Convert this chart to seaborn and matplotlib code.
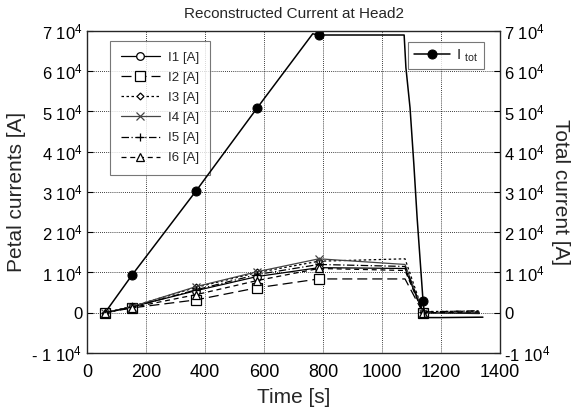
import numpy as np
import pandas as pd
import matplotlib
matplotlib.use("Agg")
import matplotlib.pyplot as plt
from matplotlib.ticker import FuncFormatter, MultipleLocator
import seaborn as sns

# total current (right axis)
t_tot = [61, 153, 370, 577, 765, 786, 1000, 1075, 1081, 1095, 1108, 1119, 1132, 1139, 1145, 1200, 1342]
i_tot = [0, 9400, 30300, 50900, 69300, 69000, 69000, 69000, 60900, 50900, 36800, 23600, 10200, 3000, -1200, -1200, -1100]
tot_marks = [1, 2, 3, 5, 13]

# petal currents (left axis)
t_pet = [61, 153, 370, 577, 786, 1078, 1139, 1330]
petals = {
    "I1 [A]": [0, 1500, 5500, 9000, 11200, 11000, 0, -200],
    "I2 [A]": [0, 1200, 3200, 6200, 8400, 8400, 0, 100],
    "I3 [A]": [0, 1600, 6300, 10000, 12800, 13400, 300, 400],
    "I4 [A]": [0, 1500, 6500, 10200, 13400, 12000, 0, 0],
    "I5 [A]": [0, 1400, 5700, 9500, 12000, 11500, 200, 500],
    "I6 [A]": [0, 1300, 4500, 8000, 11000, 10500, 0, 200],
}
pet_marks = [0, 1, 2, 3, 4, 6]

styles = {
    "I1 [A]": dict(marker="o", linestyle="-", color="black"),
    "I2 [A]": dict(marker="s", linestyle=(0, (8, 4)), color="black", markersize=7),
    "I3 [A]": dict(marker="D", linestyle=(0, (2, 2)), color="black", markersize=3.5),
    "I4 [A]": dict(marker="x", linestyle="-", color="#444444"),
    "I5 [A]": dict(marker="+", linestyle=(0, (6, 2, 1, 2)), color="black"),
    "I6 [A]": dict(marker="^", linestyle=(0, (4, 3)), color="black"),
}

sns.set_style("white")
plt.rcParams["font.family"] = ["Liberation Sans", "DejaVu Sans"]
plt.rcParams["mathtext.fontset"] = "custom"
plt.rcParams["mathtext.rm"] = "Liberation Sans"
plt.rcParams["mathtext.it"] = "Liberation Sans:italic"

fig = plt.figure(figsize=(5.74, 4.12), dpi=100)
ax = fig.add_axes([0.1516, 0.1432, 0.7195, 0.7816])

for name, vals in petals.items():
    df = pd.DataFrame({"t": t_pet, "I": vals})
    st = dict(styles[name])
    ms = st.pop("markersize", 5.5)
    sns.lineplot(data=df, x="t", y="I", ax=ax, sort=False, label=name,
                 linewidth=0.9, markevery=pet_marks, markersize=ms,
                 markerfacecolor="white", markeredgecolor=st["color"],
                 markeredgewidth=0.9, **st)

ax.set_xlim(0, 1400)
ax.set_ylim(-10000, 70000)
ax.xaxis.set_major_locator(MultipleLocator(200))
ax.yaxis.set_major_locator(MultipleLocator(10000))


def left_fmt(v, pos):
    k = int(round(v / 1e4))
    if k == 0:
        return "0"
    if k < 0:
        return r"- %d 10$^{4}$" % (-k)
    return r"%d 10$^{4}$" % k


def right_fmt(v, pos):
    k = int(round(v / 1e4))
    if k == 0:
        return "0"
    return r"%d 10$^{4}$" % k


ax.yaxis.set_major_formatter(FuncFormatter(left_fmt))
ax.grid(True, color="black", linestyle=(0, (1, 1.5)), linewidth=0.6)
ax.tick_params(direction="in", length=4, labelsize=12, colors="black")
ax.tick_params(axis="x", pad=8, labelsize=13)
for s in ax.spines.values():
    s.set_color("black")
    s.set_linewidth(0.9)
ax.set_xlabel("Time [s]", fontsize=15, labelpad=5)
ax.set_ylabel("Petal currents [A]", fontsize=15, labelpad=4)
ax.set_title("Reconstructed Current at Head2", fontsize=11, pad=9)

leg = ax.legend(loc="upper left", bbox_to_anchor=(0.04, 0.99), fontsize=9.5,
                handlelength=3.0, handletextpad=0.6, frameon=True, fancybox=False,
                edgecolor="#555555", borderpad=0.8, labelspacing=0.6)
leg.get_frame().set_linewidth(0.8)

ax2 = ax.twinx()
df_tot = pd.DataFrame({"t": t_tot, "I": i_tot})
sns.lineplot(data=df_tot, x="t", y="I", ax=ax2, sort=False, color="black",
             linewidth=1.1, marker="o", markevery=tot_marks, markersize=6.5,
             markeredgecolor="black", markerfacecolor="black",
             label=r"I $_{\rm tot}$")
ax2.set_ylim(-10000, 70000)
ax2.yaxis.set_major_locator(MultipleLocator(10000))
ax2.yaxis.set_major_formatter(FuncFormatter(right_fmt))
ax2.tick_params(direction="in", length=4, labelsize=12, colors="black", pad=3)
ax2.set_ylabel("Total current [A]", fontsize=15, rotation=270, labelpad=14)
ax2.set_xlabel("")
leg2 = ax2.legend(loc="upper right", bbox_to_anchor=(0.98, 0.99), fontsize=11,
                  handlelength=2.4, handletextpad=0.4, frameon=True, fancybox=False,
                  edgecolor="#555555", borderpad=0.35)
leg2.get_frame().set_linewidth(0.8)
ax2.grid(False)

fig.savefig("out.png", dpi=100)
